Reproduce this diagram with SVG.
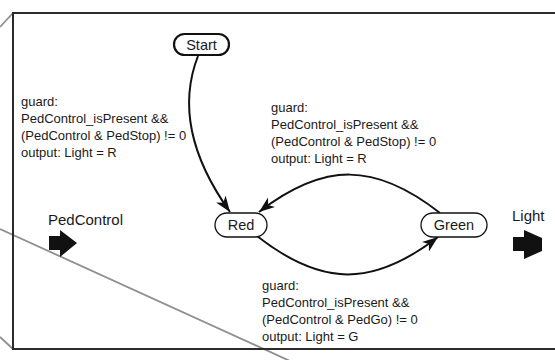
<svg xmlns="http://www.w3.org/2000/svg" width="555" height="360" viewBox="0 0 555 360">
  <defs>
    <style>
      .frame { fill: none; stroke: #2b2b2b; stroke-width: 2; }
      .guide { fill: none; stroke: #8f8f8f; stroke-width: 1.8; }
      .state { fill: #ffffff; stroke: #111111; stroke-width: 1.3; }
      .initial { fill: #ffffff; stroke: #111111; stroke-width: 2.2; }
      .edge { fill: none; stroke: #111111; stroke-width: 2; }
      .port { fill: #111111; stroke: none; }
      .lbl { font-family: "Liberation Sans", Arial, sans-serif; font-size: 13px; fill: #1a1a1a; }
      .name { font-family: "Liberation Sans", Arial, sans-serif; font-size: 14.5px; fill: #1a1a1a; text-anchor: middle; }
      .portname { font-family: "Liberation Sans", Arial, sans-serif; font-size: 15px; fill: #1a1a1a; }
    </style>
    <marker id="head" markerUnits="userSpaceOnUse" markerWidth="17" markerHeight="12" refX="16" refY="6" orient="auto">
      <path d="M0,0 L16,6 L0,12 L4.5,6 z" fill="#111111"/>
    </marker>
  </defs>

  <!-- background guide lines -->
  <line class="guide" x1="0" y1="27" x2="13" y2="13"/>
  <line class="guide" x1="0" y1="337" x2="13" y2="349"/>
  <line class="guide" x1="0" y1="229" x2="290" y2="361"/>

  <!-- model frame (open to the right) -->
  <path class="frame" d="M556,13 L13,13 L13,349 L556,349"/>

  <!-- ports -->
  <g id="port-pedcontrol">
    <text class="portname" x="48" y="225">PedControl</text>
    <polygon class="port" points="49,236 60,236 60,230 77,243 60,257 60,250 49,250"/>
  </g>
  <g id="port-light">
    <text class="portname" x="512" y="221">Light</text>
    <polygon class="port" points="513,237 524,237 524,230 542,238 542,251 524,259 524,251 513,251"/>
  </g>

  <!-- transitions -->
  <g id="connectors">
    <path class="edge" d="M198,56 C175,115 200,170 230,212" marker-end="url(#head)"/>
    <path class="edge" d="M440,213 C375,162 324,162 259,212" marker-end="url(#head)"/>
    <path class="edge" d="M257,236 C322,287 373,287 438,237" marker-end="url(#head)"/>
  </g>

  <!-- transition labels -->
  <g id="label-init">
    <text class="lbl" x="21" y="106">guard:</text>
    <text class="lbl" x="21" y="123">PedControl_isPresent &amp;&amp;</text>
    <text class="lbl" x="21" y="140">(PedControl &amp; PedStop) != 0</text>
    <text class="lbl" x="21" y="157">output: Light = R</text>
  </g>
  <g id="label-green-red">
    <text class="lbl" x="271" y="112">guard:</text>
    <text class="lbl" x="271" y="129">PedControl_isPresent &amp;&amp;</text>
    <text class="lbl" x="271" y="146">(PedControl &amp; PedStop) != 0</text>
    <text class="lbl" x="271" y="163">output: Light = R</text>
  </g>
  <g id="label-red-green">
    <text class="lbl" x="262" y="290">guard:</text>
    <text class="lbl" x="262" y="307">PedControl_isPresent &amp;&amp;</text>
    <text class="lbl" x="262" y="324">(PedControl &amp; PedGo) != 0</text>
    <text class="lbl" x="262" y="341">output: Light = G</text>
  </g>

  <!-- states -->
  <g id="state-start">
    <rect class="initial" x="174" y="34" width="55" height="21" rx="10.5"/>
    <text class="name" x="201.5" y="50">Start</text>
  </g>
  <g id="state-red">
    <rect class="state" x="215" y="213" width="52" height="24" rx="12"/>
    <text class="name" x="241" y="230">Red</text>
  </g>
  <g id="state-green">
    <rect class="state" x="421" y="213" width="66" height="24" rx="12"/>
    <text class="name" x="454" y="230">Green</text>
  </g>
</svg>
